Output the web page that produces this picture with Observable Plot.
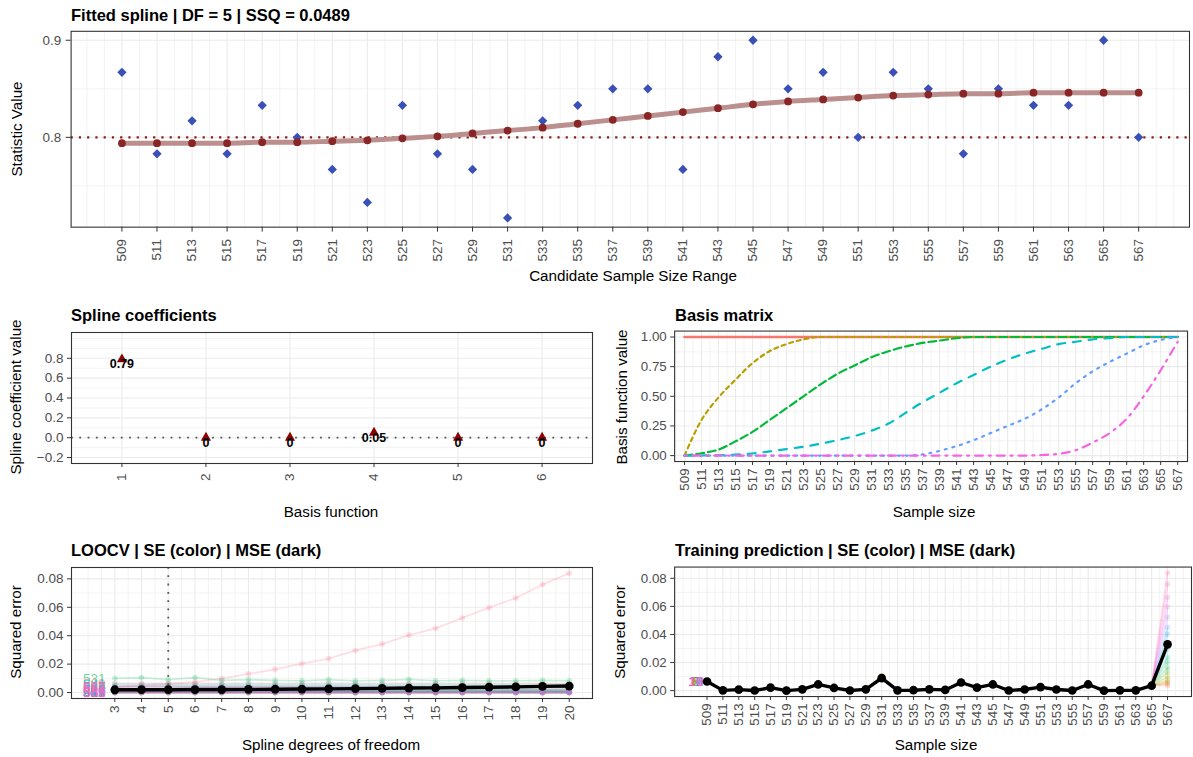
<!DOCTYPE html>
<html><head><meta charset="utf-8">
<script src="https://cdn.jsdelivr.net/npm/d3@7"></script>
<script src="https://cdn.jsdelivr.net/npm/@observablehq/plot@0.6"></script>
<style>
html,body{margin:0;padding:0;background:#fff;overflow:hidden;}
#root{position:relative;width:1193px;height:757px;overflow:hidden;font-family:"Liberation Sans",Arial,Helvetica,sans-serif;}
.panel{position:absolute;}
.panel svg{overflow:hidden;}
g[aria-label$="tick label"]{fill:#4d4d4d;}
#overlay{position:absolute;left:0;top:0;pointer-events:none;}
</style></head><body><div id="root"></div>
<script>
// ---------------- data ----------------
const sampleSizes = [509,511,513,515,517,519,521,523,525,527,529,531,533,535,537,539,541,543,545,547,549,551,553,555,557,559,561,563,565,567];
const observed = [0.867,0.783,0.817,0.783,0.833,0.800,0.767,0.733,0.833,0.783,0.767,0.717,0.817,0.833,0.850,0.850,0.767,0.883,0.900,0.850,0.867,0.800,0.867,0.850,0.783,0.850,0.833,0.833,0.900,0.800];
const fitted = [0.794,0.794,0.794,0.794,0.795,0.795,0.796,0.797,0.799,0.801,0.804,0.807,0.810,0.814,0.818,0.822,0.826,0.830,0.834,0.837,0.839,0.841,0.843,0.844,0.845,0.845,0.846,0.846,0.846,0.846];
const targetValue = 0.8;

const basisIndex = [1,2,3,4,5,6];
const coefValues = [0.79,0,0,0.05,0,0];
const coefLabels = ["0.79","0","0","0.05","0","0"];

const basis1 = [1,1,1,1,1,1,1,1,1,1,1,1,1,1,1,1,1,1,1,1,1,1,1,1,1,1,1,1,1,1];
const basis2 = [0,0.30,0.49,0.64,0.78,0.88,0.94,0.98,1,1,1,1,1,1,1,1,1,1,1,1,1,1,1,1,1,1,1,1,1,1];
const basis3 = [0,0.02,0.05,0.12,0.20,0.30,0.40,0.50,0.60,0.69,0.76,0.83,0.88,0.92,0.95,0.97,0.99,1,1,1,1,1,1,1,1,1,1,1,1,1];
const basis4 = [0,0.001,0.003,0.008,0.018,0.035,0.055,0.075,0.10,0.13,0.165,0.21,0.27,0.36,0.45,0.53,0.61,0.68,0.75,0.81,0.86,0.90,0.94,0.96,0.98,0.99,1,1,1,1];
const basis5 = [0,0,0,0,0,0,0,0,0,0,0,0,0,0,0.01,0.04,0.08,0.13,0.19,0.25,0.31,0.39,0.49,0.61,0.71,0.79,0.86,0.93,0.975,1];
const basis6 = [0,0,0,0,0,0,0,0,0,0,0,0,0,0,0,0,0,0,0,0,0,0.005,0.015,0.045,0.11,0.19,0.31,0.50,0.72,0.96];
const basisSeries = [basis1,basis2,basis3,basis4,basis5,basis6];

const dfValues = [3,4,5,6,7,8,9,10,11,12,13,14,15,16,17,18,19,20];
const chosenDf = 5;
// squared error per left-out sample size (nearly flat across df)
const loocvTypical = [0.0065,0.0002,0.0007,0.0001,0.0021,0.0000,0.0009,0.0044,0.0019,0.0001,0.0009,0.0086,0.0002,0.0003,0.0009,0.0005,0.0058,0.0021,0.0044,0.0001,0.0008,0.0025,0.0008,0.0001,0.0044,0.0000,0.0002,0.0002,0.0035,0.0330];
const loocv531 = [0.0100,0.0105,0.0091,0.0105,0.0086,0.0091,0.0086,0.0082,0.0091,0.0082,0.0086,0.0093,0.0082,0.0086,0.0082,0.0082,0.0086,0.0082];
const loocv567 = [0.0037,0.0050,0.0060,0.0075,0.0098,0.0131,0.0163,0.0203,0.0238,0.0296,0.0341,0.0404,0.0452,0.0525,0.0597,0.0665,0.0760,0.0840];

// ---------------- tables ----------------
const fitRows = sampleSizes.map((s,i)=>({s, obs: observed[i], fit: fitted[i]}));
const coefRows = basisIndex.map((b,i)=>({b, v: coefValues[i], lab: coefLabels[i]}));
const basisRows = [];
basisSeries.forEach((arr,k)=>arr.forEach((v,i)=>basisRows.push({s: sampleSizes[i], v, k: k+1})));
const seRows = [];
sampleSizes.forEach((s,i)=>dfValues.forEach((df,j)=>{
  const se = s===531 ? loocv531[j] : s===567 ? loocv567[j] : loocvTypical[i];
  seRows.push({sample: s, df, se});
}));

// ggplot2 default hue palette (polar LUV)
function hclHex(h,c,l){
  const Xn=95.047,Yn=100,Zn=108.883, den=Xn+15*Yn+3*Zn, un=4*Xn/den, vn=9*Yn/den;
  const hr=h*Math.PI/180, U=c*Math.cos(hr), V=c*Math.sin(hr);
  const Y=Yn*(l>8?Math.pow((l+16)/116,3):l/903.3);
  const u=U/(13*l)+un, v=V/(13*l)+vn;
  const X=9*Y*u/(4*v), Z=-X/3-5*Y+3*Y/v;
  const x=X/100,y=Y/100,z=Z/100;
  const lin=[3.240479*x-1.537150*y-0.498535*z,-0.969256*x+1.875992*y+0.041556*z,0.055648*x-0.204043*y+1.057311*z];
  const g=t=>{t=t<=0.0031308?12.92*t:1.055*Math.pow(t,1/2.4)-0.055;return Math.max(0,Math.min(255,Math.round(255*t)));};
  return d3.rgb(g(lin[0]),g(lin[1]),g(lin[2])).formatHex();
}
const huePal = n => d3.range(n).map(i=>hclHex(15+i*360/n,100,65));

const FONT = '"Liberation Sans",Arial,Helvetica,sans-serif';
const GRID = "#ebebeb";
const root = document.getElementById("root");
function place(svg,left,top){const d=document.createElement("div");d.className="panel";d.style.left=left+"px";d.style.top=top+"px";d.appendChild(svg);root.appendChild(d);}
const baseStyle = {fontFamily: FONT, fontSize: "13.5px", color: "#333", background: "transparent"};
const odd = sampleSizes;
const intsBetween = (a,b)=>d3.range(Math.ceil(a),Math.floor(b)+1);

// ---------------- panel A: fitted spline ----------------
{
  const dom=[506.1,569.9];
  const minorX = intsBetween(dom[0],dom[1]).filter(v=>!odd.includes(v));
  const p = Plot.plot({
    width:1200,height:290,marginLeft:71,marginRight:4,marginTop:31,marginBottom:62,
    style: baseStyle,
    x:{domain:dom,label:null},
    y:{domain:[0.7075,0.9092],label:null},
    marks:[
      Plot.gridX(minorX,{stroke:GRID,strokeOpacity:1,strokeWidth:0.6}),
      Plot.gridY([0.75,0.85],{stroke:GRID,strokeOpacity:1,strokeWidth:0.6}),
      Plot.gridX(odd,{stroke:GRID,strokeOpacity:1,strokeWidth:1.1}),
      Plot.gridY([0.8,0.9],{stroke:GRID,strokeOpacity:1,strokeWidth:1.1}),
      Plot.ruleY([targetValue],{stroke:"#8b1a1a",strokeWidth:2.2,strokeDasharray:"2.2,6.1"}),
      Plot.dot(fitRows,{x:"s",y:"obs",symbol:"diamond2",fill:"#3a50b8",stroke:"none",r:4.2}),
      Plot.line(fitRows,{x:"s",y:"fit",stroke:"#bc8f8f",strokeWidth:5,curve:"monotone-x"}),
      Plot.dot(fitRows,{x:"s",y:"fit",fill:"#8a2525",r:3.9}),
      Plot.frame({stroke:"#333",strokeWidth:1.1}),
      Plot.axisX(odd,{tickRotate:-90,tickSize:5,tickPadding:7,label:null}),
      Plot.axisY([0.8,0.9],{tickSize:5,tickPadding:5,tickFormat:d3.format(".1f"),label:null})
    ]
  });
  place(p,0,0);
}

// ---------------- panel B: spline coefficients ----------------
{
  const p = Plot.plot({
    width:600,height:230,marginLeft:71,marginRight:8,marginTop:37,marginBottom:62,
    style: baseStyle,
    x:{domain:[0.4,6.6],label:null},
    y:{domain:[-0.26,1.06],label:null},
    marks:[
      Plot.gridY([-0.1,0.1,0.3,0.5,0.7,0.9,1.0],{stroke:GRID,strokeOpacity:1,strokeWidth:0.6}),
      Plot.gridX(basisIndex,{stroke:GRID,strokeOpacity:1,strokeWidth:1.1}),
      Plot.gridY([-0.2,0,0.2,0.4,0.6,0.8],{stroke:GRID,strokeOpacity:1,strokeWidth:1.1}),
      Plot.ruleY([0],{stroke:"#555",strokeWidth:1.8,strokeDasharray:"1.8,6.5"}),
      Plot.dot(coefRows,{x:"b",y:"v",symbol:"triangle",fill:"#8b0000",stroke:"none",r:3.8}),
      Plot.text(coefRows,{x:"b",y:"v",text:"lab",dy:5,fontWeight:"bold",fontSize:12.5,fill:"#000"}),
      Plot.frame({stroke:"#333",strokeWidth:1.1}),
      Plot.axisX(basisIndex,{tickRotate:-90,tickSize:4,tickPadding:6,label:null}),
      Plot.axisY([-0.2,0,0.2,0.4,0.6,0.8],{tickSize:4,tickPadding:4,tickFormat:d3.format(".1f"),label:null})
    ]
  });
  place(p,0,295);
}

// ---------------- panel C: basis matrix ----------------
{
  const dom=[507.84,568.16];
  const minorX = intsBetween(dom[0],dom[1]).filter(v=>!odd.includes(v));
  const basisColors = ["#F8766D","#B79F00","#00BA38","#00BFC4","#619CFF","#F564E3"];
  const dashes = ["none","4,4","8,4","8,8","2,6","2,6,8,6"];
  const p = Plot.plot({
    width:600,height:230,marginLeft:75,marginRight:6,marginTop:36,marginBottom:62,
    style: baseStyle,
    x:{domain:dom,label:null},
    y:{domain:[-0.05,1.05],label:null},
    marks:[
      Plot.gridX(minorX,{stroke:GRID,strokeOpacity:1,strokeWidth:0.6}),
      Plot.gridY([0.125,0.375,0.625,0.875],{stroke:GRID,strokeOpacity:1,strokeWidth:0.6}),
      Plot.gridX(odd,{stroke:GRID,strokeOpacity:1,strokeWidth:1.1}),
      Plot.gridY([0,0.25,0.5,0.75,1],{stroke:GRID,strokeOpacity:1,strokeWidth:1.1}),
      ...basisIndex.map((k,i)=>Plot.line(basisRows.filter(d=>d.k===k),{x:"s",y:"v",stroke:basisColors[i],strokeWidth:k===1?2.6:2.2,strokeDasharray:dashes[i],curve:"monotone-x"})),
      Plot.frame({stroke:"#333",strokeWidth:1.1}),
      Plot.axisX(odd,{tickRotate:-90,tickSize:4,tickPadding:3,label:null}),
      Plot.axisY([0,0.25,0.5,0.75,1],{tickSize:4,tickPadding:4,tickFormat:d3.format(".2f"),label:null})
    ]
  });
  place(p,600,295);
}

// ---------------- panel D: LOOCV ----------------
{
  const dom=[1.38,20.87];
  const minorX=[2,...dfValues.map(d=>d-0.5),20.5];
  const labelX = 2.23;
  const pal30 = huePal(sampleSizes.length);
  const p = Plot.plot({
    width:600,height:227,marginLeft:71,marginRight:8,marginTop:37,marginBottom:59,
    style: baseStyle,
    x:{domain:dom,label:null},
    y:{domain:[-0.0042,0.088],label:null},
    color:{type:"ordinal",domain:sampleSizes,range:pal30},
    marks:[
      Plot.gridX(minorX,{stroke:GRID,strokeOpacity:1,strokeWidth:0.6}),
      Plot.gridY([0.01,0.03,0.05,0.07],{stroke:GRID,strokeOpacity:1,strokeWidth:0.6}),
      Plot.gridX(dfValues,{stroke:GRID,strokeOpacity:1,strokeWidth:1.1}),
      Plot.gridY([0,0.02,0.04,0.06,0.08],{stroke:GRID,strokeOpacity:1,strokeWidth:1.1}),
      Plot.line(seRows,{x:"df",y:"se",z:"sample",stroke:"sample",strokeOpacity:0.22,strokeWidth:1.8}),
      Plot.dot(seRows,{x:"df",y:"se",fill:"sample",fillOpacity:0.22,r:2.8}),
      Plot.text(seRows.filter(d=>d.df===dfValues[0]),{x:()=>labelX,y:"se",text:d=>String(d.sample),fill:"sample",fillOpacity:0.6,fontSize:13.5}),
      Plot.ruleX([chosenDf],{stroke:"#555",strokeWidth:1.8,strokeDasharray:"1.8,6.5"}),
      Plot.line(seRows,Plot.groupX({y:"mean"},{x:"df",y:"se",stroke:"#000",strokeWidth:3.4})),
      Plot.dot(seRows,Plot.groupX({y:"mean"},{x:"df",y:"se",fill:"#000",r:4.4})),
      Plot.frame({stroke:"#333",strokeWidth:1.1}),
      Plot.axisX(dfValues,{tickRotate:-90,tickSize:4,tickPadding:3,label:null}),
      Plot.axisY([0,0.02,0.04,0.06,0.08],{tickSize:4,tickPadding:4,tickFormat:d3.format(".2f"),label:null})
    ]
  });
  place(p,0,530);
}

// ---------------- panel E: training prediction ----------------
{
  const dom=[504.92,570.02];
  const minorX = intsBetween(dom[0],dom[1]).filter(v=>!odd.includes(v));
  const labelX = 507.6;
  const pal18 = huePal(dfValues.length);
  const p = Plot.plot({
    width:600,height:227,marginLeft:75,marginRight:2,marginTop:37,marginBottom:59,
    style: baseStyle,
    x:{domain:dom,label:null},
    y:{domain:[-0.0042,0.088],label:null},
    color:{type:"ordinal",domain:dfValues,range:pal18},
    marks:[
      Plot.gridX(minorX,{stroke:GRID,strokeOpacity:1,strokeWidth:0.6}),
      Plot.gridY([0.01,0.03,0.05,0.07],{stroke:GRID,strokeOpacity:1,strokeWidth:0.6}),
      Plot.gridX(odd,{stroke:GRID,strokeOpacity:1,strokeWidth:1.1}),
      Plot.gridY([0,0.02,0.04,0.06,0.08],{stroke:GRID,strokeOpacity:1,strokeWidth:1.1}),
      Plot.line(seRows,{x:"sample",y:"se",z:"df",stroke:"df",strokeOpacity:0.22,strokeWidth:1.8}),
      Plot.dot(seRows,{x:"sample",y:"se",fill:"df",fillOpacity:0.22,r:2.8}),
      Plot.text(seRows.filter(d=>d.sample===sampleSizes[0]),{x:()=>labelX,y:"se",text:d=>String(d.df),fill:"df",fillOpacity:0.6,fontSize:13.5}),
      Plot.line(seRows,Plot.groupX({y:"mean"},{x:"sample",y:"se",stroke:"#000",strokeWidth:3.4})),
      Plot.dot(seRows,Plot.groupX({y:"mean"},{x:"sample",y:"se",fill:"#000",r:4.4})),
      Plot.frame({stroke:"#333",strokeWidth:1.1}),
      Plot.axisX(odd,{tickRotate:-90,tickSize:4,tickPadding:3,label:null}),
      Plot.axisY([0,0.02,0.04,0.06,0.08],{tickSize:4,tickPadding:4,tickFormat:d3.format(".2f"),label:null})
    ]
  });
  place(p,600,530);
}

// ---------------- titles & axis titles ----------------
const ov = d3.select(root).append("svg").attr("id","overlay").attr("width",1193).attr("height",757)
  .style("font-family",FONT);
const titles = [
  {t:"Fitted spline | DF = 5 | SSQ = 0.0489",x:71,y:20.5},
  {t:"Spline coefficients",x:71,y:321},
  {t:"Basis matrix",x:675,y:321},
  {t:"LOOCV | SE (color) | MSE (dark)",x:71,y:556},
  {t:"Training prediction | SE (color) | MSE (dark)",x:675,y:556}
];
titles.forEach(d=>ov.append("text").attr("x",d.x).attr("y",d.y).attr("font-size",16.5).attr("font-weight","bold").attr("fill","#000").text(d.t));
const xt = [
  {t:"Candidate Sample Size Range",x:633,y:281},
  {t:"Basis function",x:331,y:516.5},
  {t:"Sample size",x:934,y:516.5},
  {t:"Spline degrees of freedom",x:331,y:750},
  {t:"Sample size",x:936,y:750}
];
xt.forEach(d=>ov.append("text").attr("x",d.x).attr("y",d.y).attr("text-anchor","middle").attr("font-size",15.2).attr("fill","#000").text(d.t));
const yt = [
  {t:"Statistic Value",x:22,y:129},
  {t:"Spline coefficient value",x:21,y:397},
  {t:"Basis function value",x:627,y:397},
  {t:"Squared error",x:21,y:632},
  {t:"Squared error",x:625,y:632}
];
yt.forEach(d=>ov.append("text").attr("transform",`translate(${d.x},${d.y}) rotate(-90)`).attr("text-anchor","middle").attr("font-size",15.2).attr("fill","#000").text(d.t));
</script></body></html>
